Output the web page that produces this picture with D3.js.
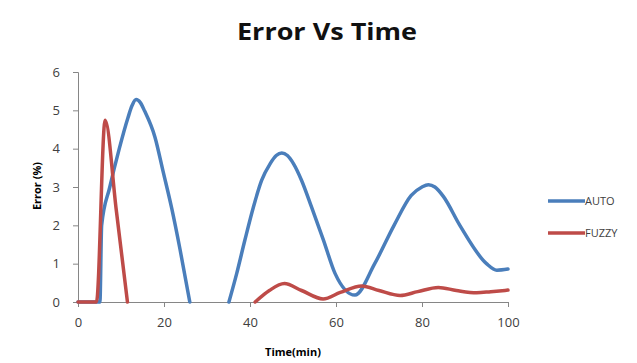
<!DOCTYPE html>
<html>
<head>
<meta charset="utf-8">
<script src="https://cdn.jsdelivr.net/npm/d3@7"></script>
<style>
  body { margin: 0; background: #fff; }
  text { font-family: "Open Sans", "Liberation Sans", sans-serif; }
</style>
</head>
<body>
<div id="chart"></div>
<script>
// values (null = no line drawn)
let autoTime  = [0, 5.1, 5.5, 7.4, 9.6, 11.6, 12.6, 13.5, 14.5, 15.5, 17.9, 19.8, 21.8, 23.7, 26, 30,
                 35.1, 36.9, 38.8, 40.8, 42.7, 44.7, 46.1, 47.4, 48.7, 50.1, 52, 54.3, 57.1, 59.8, 64.4,
                 69, 73.5, 77.5, 80, 81.5, 83, 85, 88.8, 95, 97.4, 100];
let autoError = [0, 0, 2.0, 3.0, 4.0, 4.8, 5.13, 5.28, 5.2, 4.98, 4.3, 3.4, 2.44, 1.39, 0, null,
                 0, 0.74, 1.61, 2.48, 3.17, 3.61, 3.82, 3.89, 3.82, 3.61, 3.17, 2.48, 1.61, 0.74, 0.18,
                 1, 2, 2.78, 3.0, 3.06, 3.0, 2.75, 2, 1, 0.83, 0.86];

let fuzzyTime  = [0, 4.3, 6.3, 8.9, 11.5, 25,
                  41.2, 44.5, 48, 52, 57, 61, 66, 70, 74.9, 79, 83.8, 88, 92.7, 96, 100];
let fuzzyError = [0, 0, 4.74, 2.4, 0, null,
                  0, 0.3, 0.48, 0.3, 0.08, 0.25, 0.42, 0.3, 0.17, 0.27, 0.38, 0.3, 0.24, 0.27, 0.31];

let xTicks = [0, 20, 40, 60, 80, 100];
let yTicks = [0, 1, 2, 3, 4, 5, 6];

let seriesNames = ['AUTO', 'FUZZY'];
let seriesColors = ['#4a7ebb', '#be4b48'];

let width = 637, height = 363;
let margin = {left: 78, right: 129, top: 72, bottom: 61};

let svg = d3.select('#chart').append('svg')
    .attr('width', width)
    .attr('height', height);

let x = d3.scaleLinear().domain([0, 100]).range([margin.left, width - margin.right]);
let y = d3.scaleLinear().domain([0, 6]).range([height - margin.bottom, margin.top]);

// title
svg.append('text')
    .attr('x', 327)
    .attr('y', 40)
    .attr('text-anchor', 'middle')
    .style('font-size', '24px')
    .style('font-weight', 'bold')
    .attr('textLength', 180)
    .attr('lengthAdjust', 'spacingAndGlyphs')
    .attr('fill', '#111')
    .text('Error Vs Time');

// axes
let xAxis = svg.append('g')
    .attr('transform', `translate(0,${y(0)})`)
    .call(d3.axisBottom(x).tickValues(xTicks).tickSize(5).tickPadding(11));

let yAxis = svg.append('g')
    .attr('transform', `translate(${x(0)},0)`)
    .call(d3.axisLeft(y).tickValues(yTicks).tickFormat(d3.format('d')).tickSize(5).tickPadding(13));

[xAxis, yAxis].forEach(a => {
    a.select('.domain').attr('stroke', '#868686');
    a.selectAll('.tick line').attr('stroke', '#868686');
    a.selectAll('.tick text')
        .attr('fill', '#404040')
        .style('font-size', '13px');
});

// axis titles
svg.append('text')
    .attr('x', 293)
    .attr('y', 356)
    .attr('text-anchor', 'middle')
    .style('font-size', '11px')
    .style('font-weight', 'bold')
    .attr('fill', '#000')
    .text('Time(min)');

svg.append('text')
    .attr('transform', 'translate(41,186) rotate(-90)')
    .attr('text-anchor', 'middle')
    .style('font-size', '11px')
    .style('font-weight', 'bold')
    .attr('fill', '#000')
    .text('Error (%)');

// lines
let line = d3.line()
    .defined(d => d[1] != null)
    .x(d => x(d[0]))
    .y(d => y(d[1]))
    .curve(d3.curveMonotoneX);

let series = [
    d3.zip(autoTime, autoError),
    d3.zip(fuzzyTime, fuzzyError)
];

svg.selectAll('path.series')
    .data(series)
    .enter()
    .append('path')
    .attr('class', 'series')
    .attr('d', d => line(d))
    .attr('fill', 'none')
    .attr('stroke', (d, i) => seriesColors[i])
    .attr('stroke-width', 3.5)
    .attr('stroke-linejoin', 'round')
    .attr('stroke-linecap', 'round');

// legend
let legend = svg.selectAll('g.legend')
    .data(seriesNames)
    .enter()
    .append('g')
    .attr('class', 'legend')
    .attr('transform', (d, i) => `translate(548,${201 + i * 32})`);

legend.append('line')
    .attr('x1', 0)
    .attr('x2', 37)
    .attr('stroke', (d, i) => seriesColors[i])
    .attr('stroke-width', 3.5);

legend.append('text')
    .attr('x', 37)
    .attr('y', 4)
    .style('font-size', '11px')
    .attr('fill', '#404040')
    .text(d => d);
</script>
</body>
</html>
